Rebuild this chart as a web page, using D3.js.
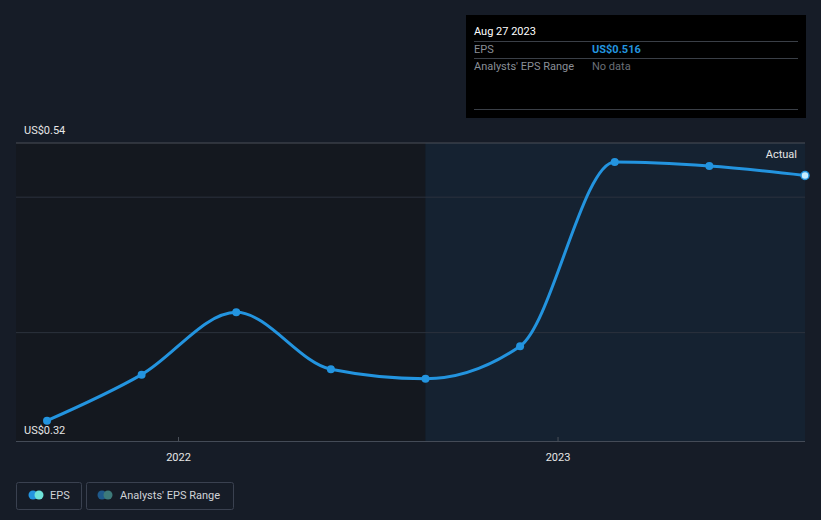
<!DOCTYPE html>
<html><head><meta charset="utf-8">
<script src="https://cdn.jsdelivr.net/npm/d3@7"></script>
<style>
html,body{margin:0;padding:0;background:#161c27;}
svg{display:block;font-family:Roboto,"Open Sans",sans-serif;}
</style></head>
<body>
<svg id="c" width="821" height="520"></svg>
<script>
const dates = ["2021-08-28","2021-11-27","2022-02-26","2022-05-28","2022-08-27","2022-11-26","2023-02-25","2023-05-27","2023-08-27"];
const eps = [0.335, 0.369, 0.415, 0.373, 0.366, 0.390, 0.526, 0.523, 0.516];
const yTicks = [0.32, 0.40, 0.50, 0.54];
const xTicks = ["2022-01-01","2023-01-01"];
const forecastStart = "2022-08-27";

const parse = d3.timeParse("%Y-%m-%d");
const data = dates.map((d,i)=>({date:parse(d), v:eps[i]}));
const svg = d3.select("#c");
const L=16, R=805, T=143, B=441;
const x = d3.scaleTime().domain([parse(dates[0]), parse(dates[dates.length-1])]).range([47, R]);
const y = d3.scaleLinear().domain([0.32,0.54]).range([B,T]);

// panels
svg.append("rect").attr("x",L).attr("y",T).attr("width",x(parse(forecastStart))-L).attr("height",B-T).attr("fill","#14181f");
svg.append("rect").attr("x",x(parse(forecastStart))).attr("y",T).attr("width",R-x(parse(forecastStart))).attr("height",B-T).attr("fill","#152231");

// grid
svg.append("g").selectAll("line").data(yTicks.filter(t=>t>0.32)).join("line")
  .attr("x1",L).attr("x2",R).attr("y1",d=>y(d)).attr("y2",d=>y(d))
  .attr("stroke",d=>d===0.54?"#4a4f58":"#2c323d").attr("stroke-width",1);

// x axis
const xa = svg.append("g").attr("transform",`translate(0,${B})`)
  .call(d3.axisBottom(x).tickValues(xTicks.map(parse)).tickFormat(d3.timeFormat("%Y")).tickSize(4).tickSizeOuter(0));
xa.select(".domain").remove();
xa.selectAll(".tick line").attr("stroke","#4a4f58").attr("transform","translate(0,-4)");
xa.selectAll("text").attr("fill","#e6e6e6").attr("font-size",11).attr("dy","1.2em").attr("font-family","Roboto,sans-serif");
svg.append("line").attr("x1",L).attr("x2",R).attr("y1",B+0.5).attr("y2",B+0.5).attr("stroke","#444b57");

// y labels
svg.append("text").attr("x",24).attr("y",y(0.54)-9).attr("fill","#e6e6e6").attr("font-size",11).text("US$0.54");
svg.append("text").attr("x",24).attr("y",y(0.32)-7).attr("fill","#e6e6e6").attr("font-size",11).text("US$0.32");

// line
const line = d3.line().x(d=>x(d.date)).y(d=>y(d.v)).curve(d3.curveMonotoneX);
svg.append("path").datum(data).attr("d",line).attr("fill","none").attr("stroke","#2394df").attr("stroke-width",3);
svg.append("g").selectAll("circle").data(data).join("circle")
  .attr("cx",d=>x(d.date)).attr("cy",d=>y(d.v)).attr("r",4)
  .attr("fill",(d,i)=>i===data.length-1?"#c6ecff":"#2394df")
  .attr("stroke",(d,i)=>i===data.length-1?"#2394df":"none").attr("stroke-width",1.5);

svg.append("text").attr("x",797).attr("y",158).attr("text-anchor","end").attr("fill","#e6e6e6").attr("font-size",11).text("Actual");

// tooltip
const tt = svg.append("g").attr("transform","translate(466,15)");
tt.append("rect").attr("width",340).attr("height",103).attr("fill","#000");
tt.append("text").attr("x",8).attr("y",20).attr("fill","#ffffff").attr("font-size",11).text("Aug 27 2023");
[26,43,94].forEach(yy=>tt.append("line").attr("x1",8).attr("x2",332).attr("y1",yy+0.5).attr("y2",yy+0.5).attr("stroke","#3a3f47"));
tt.append("text").attr("x",8).attr("y",38).attr("fill","#8a8f97").attr("font-size",11).text("EPS");
tt.append("text").attr("x",126).attr("y",38).attr("fill","#2394df").attr("font-size",11).attr("font-weight","bold").text("US$" + eps[eps.length-1].toFixed(3));
tt.append("text").attr("x",8).attr("y",55).attr("fill","#8a8f97").attr("font-size",11).text("Analysts' EPS Range");
tt.append("text").attr("x",126).attr("y",55).attr("fill","#6a6f77").attr("font-size",11).text("No data");

// legend
const lg = svg.append("g");
lg.append("rect").attr("x",16.5).attr("y",482.5).attr("width",65).attr("height",27).attr("rx",2).attr("fill","none").attr("stroke","#3a4150");
lg.append("circle").attr("cx",33).attr("cy",495).attr("r",4.5).attr("fill","#2394df");
lg.append("circle").attr("cx",39).attr("cy",495).attr("r",4.5).attr("fill","#6fe3d8");
lg.append("text").attr("x",50).attr("y",499).attr("fill","#d0d3d8").attr("font-size",11).text("EPS");
lg.append("rect").attr("x",86.5).attr("y",482.5).attr("width",147).attr("height",27).attr("rx",2).attr("fill","none").attr("stroke","#3a4150");
lg.append("circle").attr("cx",102).attr("cy",495).attr("r",4.5).attr("fill","#1f5a8c");
lg.append("circle").attr("cx",108).attr("cy",495).attr("r",4.5).attr("fill","#3d7a7a");
lg.append("text").attr("x",120).attr("y",499).attr("fill","#d0d3d8").attr("font-size",11).text("Analysts' EPS Range");
</script>
</body></html>
